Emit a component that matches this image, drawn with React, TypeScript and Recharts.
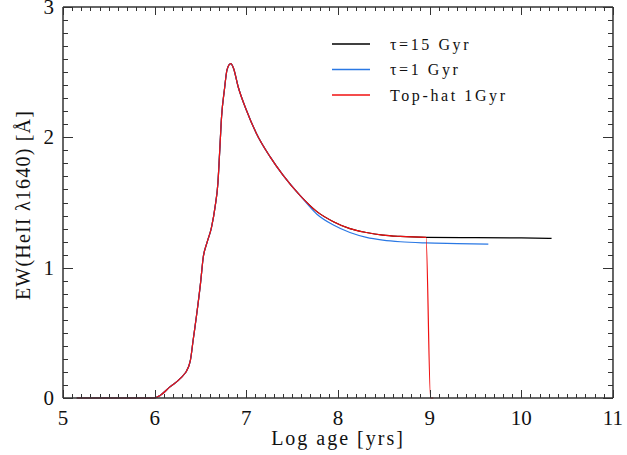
import { LineChart, Line, XAxis, YAxis, Legend } from "recharts";

// early phase, identical for all three histories
const riseAge = [5.15, 6.0, 6.06, 6.17, 6.28, 6.37, 6.39, 6.42, 6.46, 6.5, 6.53, 6.57, 6.62, 6.66, 6.69, 6.71, 6.73, 6.76, 6.79, 6.83, 6.86, 6.91, 7.0, 7.11, 7.26, 7.4, 7.585];
const riseEw = [0, 0, 0.02, 0.087, 0.15, 0.24, 0.29, 0.445, 0.65, 0.88, 1.08, 1.19, 1.31, 1.47, 1.65, 1.9, 2.16, 2.36, 2.52, 2.565, 2.53, 2.39, 2.21, 2.03, 1.85, 1.71, 1.555];

const tau15Age = [7.77, 7.95, 8.13, 8.31, 8.49, 8.68, 8.96, 9.5, 10.0, 10.33];
const tau15Ew = [1.43, 1.353, 1.3, 1.27, 1.25, 1.24, 1.233, 1.23, 1.228, 1.225];

const tau1Age = [7.77, 7.95, 8.13, 8.31, 8.49, 8.68, 8.96, 9.3, 9.64];
const tau1Ew = [1.41, 1.327, 1.27, 1.233, 1.212, 1.199, 1.19, 1.185, 1.18];

const topHatAge = [7.77, 7.95, 8.13, 8.31, 8.49, 8.68, 8.96, 9.01, 9.04];
const topHatEw = [1.43, 1.353, 1.3, 1.27, 1.25, 1.24, 1.233, 0, 0];

const seriesNames = ["τ=15 Gyr", "τ=1 Gyr", "Top-hat 1Gyr"];
const seriesColors = ["#000000", "#2a78e4", "#f01010"];

const xMajor = [5, 6, 7, 8, 9, 10, 11];
const yMajor = [0, 1, 2, 3];

const W = 627;
const H = 455;
const M = { top: 7, right: 14, bottom: 0, left: 0 };
const PLOT_TOP = M.top;
const PLOT_RIGHT = W - M.right;

const AXIS = "#333";
const FONT = "'Liberation Serif', serif";

const build = (age: number[], ew: number[]) =>
  [...riseAge, ...age].map((a, i) => ({ age: a, ew: [...riseEw, ...ew][i] }));

const tau15 = build(tau15Age, tau15Ew);
const tau1 = build(tau1Age, tau1Ew);
const topHat = build(topHatAge, topHatEw);

// minor ticks every 0.1
const xTicks = Array.from({ length: 61 }, (_, i) => Math.round((5 + i * 0.1) * 10) / 10);
const yTicks = Array.from({ length: 31 }, (_, i) => i / 10);

const isMajor = (v: number, majors: number[]) => majors.some((m) => Math.abs(m - v) < 1e-6);
const snap = (v: number) => Math.round(v) + 0.5;

// bottom axis tick: draws its inward tick, the mirrored tick on the top edge, and the label
const bottomTick = (p: any) => {
  const x = snap(Number(p.x));
  const y = Number(p.y);
  const v = p.payload.value;
  const major = isMajor(v, xMajor);
  const len = major ? 8 : 4;
  return (
    <g>
      <path d={`M${x},${y}V${y - len}M${x},${PLOT_TOP}V${PLOT_TOP + len}`} stroke={AXIS} strokeWidth={1} fill="none" />
      {major && (
        <text x={Number(p.x)} y={y + 27} textAnchor="middle" fontFamily={FONT} fontSize={21} fill="#111">
          {Math.round(v)}
        </text>
      )}
    </g>
  );
};

// left axis tick: inward tick, mirrored tick on the right edge, and the label
const leftTick = (p: any) => {
  const x = Number(p.x);
  const y = snap(Number(p.y));
  const v = p.payload.value;
  const major = isMajor(v, yMajor);
  const len = major ? 10 : 5;
  return (
    <g>
      <path d={`M${x},${y}H${x + len}M${PLOT_RIGHT},${y}H${PLOT_RIGHT - len}`} stroke={AXIS} strokeWidth={1} fill="none" />
      {major && (
        <text x={x - 9} y={Number(p.y) + 7} textAnchor="end" fontFamily={FONT} fontSize={21} fill="#111">
          {Math.round(v)}
        </text>
      )}
    </g>
  );
};

function LegendBox(props: any) {
  const items = [...(props.payload || [])].sort(
    (a: any, b: any) => seriesNames.indexOf(a.value) - seriesNames.indexOf(b.value)
  );
  return (
    <svg width={240} height={80}>
      {items.map((it: any, i: number) => (
        <g key={i}>
          <line x1={7} x2={45} y1={14 + i * 25.5} y2={14 + i * 25.5} stroke={it.color} strokeWidth={1.3} />
          <text x={65} y={14 + i * 25.5 + 5.5} fontFamily={FONT} fontSize={16} letterSpacing={2.6} fill="#111">
            {it.value}
          </text>
        </g>
      ))}
    </svg>
  );
}

export default function App() {
  return (
    <div style={{ position: "absolute", left: 0, top: 0, background: "#fff" }}>
      <LineChart width={W} height={H} margin={M}>
        <XAxis
          dataKey="age"
          type="number"
          domain={[5, 11]}
          ticks={xTicks}
          interval={0}
          tickSize={0}
          tickMargin={0}
          tickLine={false}
          tick={bottomTick}
          axisLine={{ stroke: AXIS, strokeWidth: 1.5 }}
          height={57}
          label={{
            content: (p: any) => (
              <text
                x={p.viewBox.x + p.viewBox.width / 2}
                y={p.viewBox.y + 47}
                textAnchor="middle"
                fontFamily={FONT}
                fontSize={20}
                letterSpacing={2}
                fill="#111"
              >
                Log age [yrs]
              </text>
            ),
          }}
        />
        <XAxis
          xAxisId="top"
          orientation="top"
          type="number"
          domain={[5, 11]}
          tick={false}
          tickLine={false}
          axisLine={{ stroke: AXIS, strokeWidth: 1.5 }}
          height={0.01}
        />
        <YAxis
          type="number"
          domain={[0, 3]}
          ticks={yTicks}
          interval={0}
          tickSize={0}
          tickMargin={0}
          tickLine={false}
          tick={leftTick}
          axisLine={{ stroke: AXIS, strokeWidth: 1.5 }}
          width={63}
          label={{
            content: () => (
              <text
                x={0}
                y={0}
                transform="translate(23 205) rotate(-90)"
                textAnchor="middle"
                dominantBaseline="central"
                fontFamily={FONT}
                fontSize={20}
                letterSpacing={1.2}
                fill="#111"
              >
                EW(HeII λ1640) [Å]
              </text>
            ),
          }}
        />
        <YAxis
          yAxisId="right"
          orientation="right"
          type="number"
          domain={[0, 3]}
          tick={false}
          tickLine={false}
          axisLine={{ stroke: AXIS, strokeWidth: 1.5 }}
          width={0.01}
        />
        <Legend
          layout="vertical"
          align="center"
          verticalAlign="middle"
          content={<LegendBox />}
          wrapperStyle={{ left: 325, top: 30, width: 240, height: 80 }}
        />
        {[tau15, tau1, topHat].map((d, i) => (
          <Line
            key={seriesNames[i]}
            name={seriesNames[i]}
            data={d}
            dataKey="ew"
            type="monotone"
            stroke={seriesColors[i]}
            strokeWidth={1.2}
            dot={false}
            isAnimationActive={false}
          />
        ))}
      </LineChart>
    </div>
  );
}
